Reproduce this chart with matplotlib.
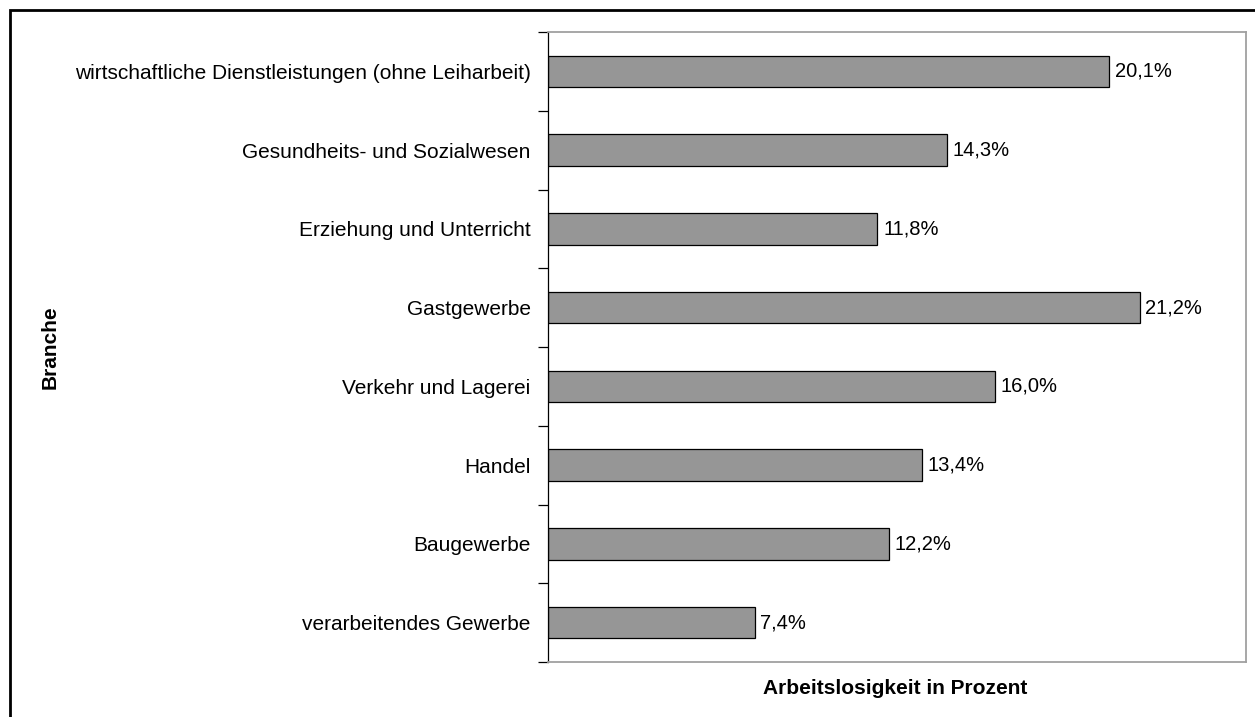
import matplotlib
matplotlib.use("Agg")
import matplotlib.pyplot as plt
from matplotlib.patches import Rectangle

categories = [
    "verarbeitendes Gewerbe",
    "Baugewerbe",
    "Handel",
    "Verkehr und Lagerei",
    "Gastgewerbe",
    "Erziehung und Unterricht",
    "Gesundheits- und Sozialwesen",
    "wirtschaftliche Dienstleistungen (ohne Leiharbeit)",
]
values = [7.4, 12.2, 13.4, 16.0, 21.2, 11.8, 14.3, 20.1]
value_labels = ["7,4%", "12,2%", "13,4%", "16,0%", "21,2%", "11,8%", "14,3%", "20,1%"]

plt.rcParams['font.family'] = ['Liberation Sans', 'DejaVu Sans']

W, H = 1255, 717
fig = plt.figure(figsize=(W / 100, H / 100), dpi=100)
ax = fig.add_axes([548 / W, 1 - 662 / H, (1246 - 548) / W, (662 - 32) / H])

ys = list(range(len(categories)))
ax.barh(ys, values, height=0.4, color="#969696", edgecolor="black", linewidth=0.9)
for y, v, lab in zip(ys, values, value_labels):
    ax.text(v + 0.2, y, lab, va="center", ha="left", fontsize=14.5)

ax.set_xlim(0, 25)
ax.set_ylim(-0.5, len(categories) - 0.5)
ax.set_yticks(ys)
ax.set_yticklabels(categories, fontsize=15)
ax.tick_params(axis="y", length=0, pad=12.5)
ax.set_yticks([i - 0.5 for i in range(len(categories) + 1)], minor=True)
ax.tick_params(axis="y", which="minor", length=7, width=0.9, color="black")
ax.set_xticks([])

for s in ["top", "right", "bottom"]:
    ax.spines[s].set_color("#a0a0a0")
    ax.spines[s].set_linewidth(1.3)
ax.spines["left"].set_color("black")
ax.spines["left"].set_linewidth(0.9)

fig.text(50 / W, 1 - 347 / H, "Branche", rotation=90, fontsize=15,
         fontweight="bold", ha="center", va="center")
fig.text(895 / W, 1 - 688 / H, "Arbeitslosigkeit in Prozent", fontsize=15,
         fontweight="bold", ha="center", va="center")

fig.patches.append(Rectangle((10 / W, -0.1), 1.2, 1 - 10 / H + 0.1,
                             transform=fig.transFigure, fill=False,
                             edgecolor="black", linewidth=2, zorder=10))

fig.savefig("out.png", dpi=100)
